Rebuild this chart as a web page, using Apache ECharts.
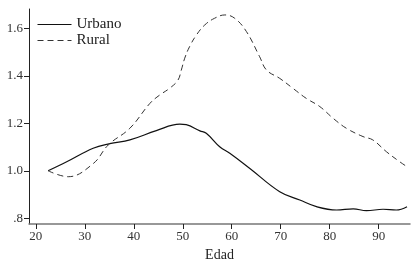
<!DOCTYPE html>
<html><head><meta charset="utf-8">
<script src="https://cdn.jsdelivr.net/npm/echarts@6/dist/echarts.min.js"></script>
<style>html,body{margin:0;padding:0;background:#fff}#c{width:420px;height:268px}</style>
</head><body><div id="c"></div>
<script>
const urbanoAge = [22.5,26.3,31.7,35.1,39.2,44.6,49.4,50.7,53.5,54.8,57.6,59.6,63.7,69.8,73.9,77.3,81.4,84.8,87.5,90.9,93.6,95.8];
const urbanoVal = [1.0,1.038,1.095,1.114,1.13,1.169,1.196,1.194,1.168,1.158,1.10,1.074,1.01,0.912,0.877,0.849,0.835,0.840,0.832,0.838,0.835,0.849];
const ruralAge = [22.5,26.6,31.7,34.8,39.2,43.3,45.3,47.3,49.0,49.7,50.4,51.4,52.8,54.5,56.5,58.6,60.6,63.0,65.7,67.1,69.8,72.5,75.2,78.0,80.7,83.4,86.8,88.8,91.6,94.3,95.8];
const ruralVal = [1.0,0.975,1.03,1.109,1.179,1.284,1.319,1.347,1.381,1.424,1.474,1.523,1.572,1.614,1.642,1.656,1.642,1.586,1.48,1.424,1.389,1.347,1.305,1.27,1.221,1.179,1.144,1.13,1.08,1.038,1.017];
const xTicks = [20,30,40,50,60,70,80,90];
const yTicks = [0.8,1.0,1.2,1.4,1.6];
const seriesNames = ['Urbano','Rural'];

const font = 'Liberation Serif';
const chart = echarts.init(document.getElementById('c'));
chart.setOption({
  animation:false,
  grid:{left:29,right:10,top:9,bottom:44},
  legend:{
    left:32, top:12, orient:'vertical', itemGap:1, itemWidth:34, itemHeight:10,
    itemStyle:{opacity:0},
    lineStyle:{width:1},
    textStyle:{fontFamily:font,fontSize:15,color:'#222'},
    data:seriesNames
  },
  xAxis:{
    type:'value', min:18.6, max:96.4,
    name:'Edad', nameLocation:'middle', nameGap:21,
    nameTextStyle:{fontFamily:font,fontSize:14,color:'#222'},
    axisLine:{show:true,onZero:false,lineStyle:{color:'#777',width:1.5}},
    axisTick:{show:true,length:5,lineStyle:{color:'#222'},customValues:xTicks},
    axisLabel:{fontFamily:font,fontSize:13,color:'#333',margin:6,customValues:xTicks},
    splitLine:{show:false}
  },
  yAxis:{
    type:'value', min:0.776, max:1.681,
    axisLine:{show:true,onZero:false,lineStyle:{color:'#222',width:1}},
    axisTick:{show:true,length:5,lineStyle:{color:'#222'},customValues:yTicks},
    axisLabel:{fontFamily:font,fontSize:13,color:'#333',margin:6,customValues:yTicks,
      formatter:v=>Math.abs(v-0.8)<1e-6?'.8':v.toFixed(1)},
    splitLine:{show:false}
  },
  series:[
    {name:seriesNames[0],type:'line',smooth:0.4,symbol:'none',
     lineStyle:{color:'#111',width:1.2,type:'solid'},itemStyle:{color:'#111'},
     data:urbanoAge.map((a,i)=>[a,urbanoVal[i]])},
    {name:seriesNames[1],type:'line',smooth:0.4,symbol:'none',
     lineStyle:{color:'#333',width:1,type:[6,4]},itemStyle:{color:'#333'},
     data:ruralAge.map((a,i)=>[a,ruralVal[i]])}
  ]
});
</script></body></html>
